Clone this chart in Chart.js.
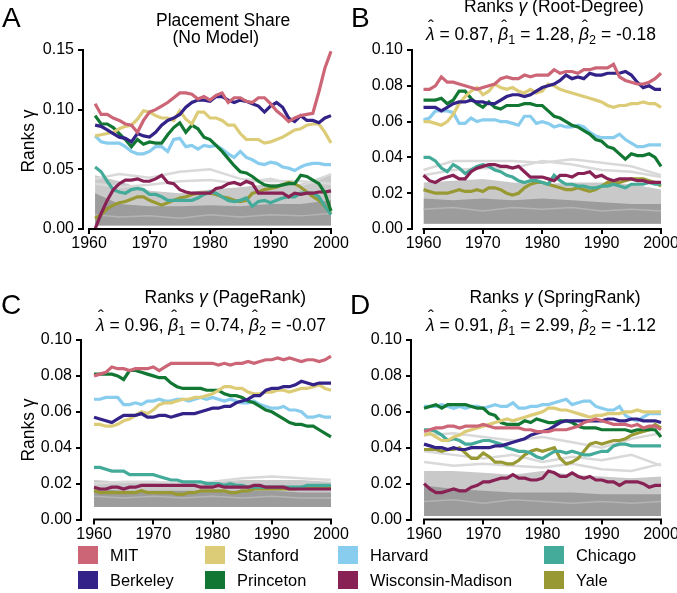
<!DOCTYPE html>
<html>
<head>
<meta charset="utf-8">
<script src="https://cdn.jsdelivr.net/npm/chart.js@4.4.1/dist/chart.umd.min.js"></script>
<style>
  body { margin: 0; background: #fff; }
  #fig { position: relative; width: 677px; height: 593px; overflow: hidden; font-family: "Liberation Sans", Arial, sans-serif; color: #000; }
  canvas { position: absolute; }
  .txt { position: absolute; white-space: nowrap; line-height: 1; }
  .hat { position: relative; display: inline-block; font-style: italic; }
  .hat::after { content: "\02C6"; position: absolute; left: 0.08em; right: 0; top: -0.42em; text-align: center; font-style: normal; }
  sub { font-size: 0.72em; vertical-align: -0.28em; line-height: 0; }
  .sw { position: absolute; width: 20px; height: 18px; }
</style>
</head>
<body>
<div id="fig">
  <canvas id="chartA" width="355" height="260" style="left:0;top:0"></canvas>
  <canvas id="chartB" width="350" height="260" style="left:340px;top:0"></canvas>
  <canvas id="chartC" width="355" height="290" style="left:0;top:260px"></canvas>
  <canvas id="chartD" width="350" height="290" style="left:340px;top:260px"></canvas>
</div>
<script>
// ---- donnees ----
const schools = ["MIT", "Berkeley", "Stanford", "Princeton", "Harvard", "Wisconsin-Madison", "Chicago", "Yale"];
const schoolColors = ["#CC6677", "#332288", "#DDCC77", "#117733", "#88CCEE", "#882255", "#44AA99", "#999933"];

const xTicks = [1960, 1970, 1980, 1990, 2000];
const yTicksShare = [0, 0.05, 0.1, 0.15];
const yTicksModel = [0, 0.02, 0.04, 0.06, 0.08, 0.1];

const yearsA = [1961, 1962, 1963, 1964, 1965, 1966, 1967, 1968, 1969, 1970, 1971, 1972, 1973, 1974, 1975, 1976, 1977, 1978, 1979, 1980,
  1981, 1982, 1983, 1984, 1985, 1986, 1987, 1988, 1989, 1990, 1991, 1992, 1993, 1994, 1995, 1996, 1997, 1998, 1999, 2000];
const years = [1960, 1961, 1962, 1963, 1964, 1965, 1966, 1967, 1968, 1969, 1970, 1971, 1972, 1973, 1974, 1975, 1976, 1977, 1978, 1979, 1980,
  1981, 1982, 1983, 1984, 1985, 1986, 1987, 1988, 1989, 1990, 1991, 1992, 1993, 1994, 1995, 1996, 1997, 1998, 1999, 2000];
const grayYearsA = [1961, 1965, 1970, 1975, 1980, 1985, 1990, 1995, 2000];
const grayYears = [1960, 1965, 1970, 1975, 1980, 1985, 1990, 1995, 2000];

// A : placement share
const A_MIT = [0.105,0.096,0.096,0.093,0.091,0.088,0.087,0.081,0.091,0.098,0.100,0.103,0.106,0.110,0.114,0.114,0.113,0.109,0.111,0.108,0.112,0.114,0.106,0.110,0.110,0.107,0.106,0.110,0.110,0.105,0.099,0.095,0.090,0.093,0.095,0.096,0.097,0.115,0.135,0.149];
const A_Berkeley = [0.087,0.086,0.083,0.080,0.077,0.076,0.073,0.080,0.078,0.077,0.081,0.087,0.091,0.093,0.096,0.102,0.106,0.108,0.108,0.107,0.111,0.111,0.108,0.106,0.108,0.107,0.105,0.103,0.098,0.103,0.106,0.102,0.093,0.090,0.095,0.091,0.091,0.089,0.093,0.095];
const A_Stanford = [0.078,0.079,0.080,0.081,0.084,0.086,0.087,0.092,0.099,0.098,0.095,0.093,0.093,0.091,0.099,0.092,0.088,0.098,0.098,0.093,0.093,0.091,0.087,0.087,0.080,0.075,0.075,0.075,0.072,0.073,0.075,0.077,0.080,0.083,0.084,0.087,0.088,0.088,0.081,0.072];
const A_Princeton = [0.095,0.088,0.088,0.085,0.080,0.075,0.069,0.075,0.071,0.073,0.072,0.072,0.079,0.085,0.089,0.081,0.087,0.084,0.077,0.075,0.070,0.065,0.059,0.053,0.048,0.047,0.044,0.040,0.037,0.036,0.036,0.037,0.038,0.038,0.045,0.044,0.041,0.038,0.030,0.015];
const A_Harvard = [0.078,0.073,0.072,0.072,0.072,0.069,0.065,0.063,0.063,0.065,0.069,0.069,0.065,0.075,0.076,0.069,0.070,0.067,0.070,0.069,0.070,0.067,0.063,0.060,0.065,0.060,0.058,0.055,0.054,0.056,0.055,0.052,0.051,0.049,0.052,0.054,0.055,0.055,0.054,0.054];
const A_Wisconsin = [0.000,0.013,0.024,0.033,0.038,0.041,0.041,0.042,0.040,0.040,0.042,0.045,0.039,0.038,0.033,0.031,0.030,0.030,0.030,0.030,0.034,0.035,0.038,0.039,0.037,0.040,0.038,0.030,0.030,0.030,0.030,0.030,0.027,0.030,0.029,0.030,0.030,0.031,0.031,0.032];
const A_Chicago = [0.052,0.048,0.040,0.033,0.031,0.030,0.033,0.034,0.033,0.029,0.029,0.027,0.024,0.024,0.024,0.024,0.024,0.026,0.029,0.031,0.030,0.027,0.024,0.023,0.024,0.026,0.019,0.023,0.024,0.022,0.024,0.026,0.027,0.027,0.030,0.030,0.030,0.027,0.019,0.012];
const A_Yale = [0.009,0.012,0.017,0.020,0.022,0.023,0.025,0.027,0.027,0.024,0.022,0.020,0.022,0.024,0.026,0.027,0.029,0.030,0.030,0.030,0.029,0.027,0.026,0.024,0.023,0.024,0.030,0.031,0.033,0.034,0.035,0.037,0.039,0.038,0.035,0.031,0.027,0.024,0.019,0.013];
const A_grayDark = [0.030, 0.021, 0.019, 0.019, 0.020, 0.019, 0.021, 0.021, 0.024];
const A_grayMid = [0.045, 0.040, 0.032, 0.030, 0.033, 0.035, 0.038, 0.038, 0.046];
const A_grayStreak = [0.012, 0.010, 0.011, 0.009, 0.012, 0.010, 0.012, 0.011, 0.013];
const A_grayL1 = [0.042, 0.046, 0.043, 0.048, 0.050, 0.042, 0.040, 0.040, 0.038];
const A_grayL2 = [0.038, 0.035, 0.037, 0.040, 0.041, 0.038, 0.042, 0.036, 0.046];

// B : root-degree
const B_MIT = [0.078,0.078,0.080,0.085,0.082,0.082,0.081,0.080,0.079,0.078,0.079,0.080,0.081,0.084,0.085,0.084,0.084,0.086,0.085,0.086,0.086,0.086,0.089,0.087,0.088,0.088,0.087,0.089,0.089,0.090,0.090,0.090,0.092,0.085,0.083,0.082,0.081,0.081,0.082,0.084,0.087];
const B_Berkeley = [0.068,0.068,0.068,0.066,0.068,0.070,0.071,0.071,0.072,0.071,0.071,0.070,0.070,0.072,0.074,0.075,0.075,0.074,0.075,0.077,0.079,0.080,0.081,0.083,0.086,0.084,0.085,0.084,0.087,0.086,0.086,0.087,0.087,0.087,0.088,0.086,0.082,0.079,0.080,0.078,0.078];
const B_Stanford = [0.060,0.060,0.059,0.058,0.060,0.064,0.070,0.074,0.077,0.079,0.075,0.077,0.081,0.079,0.078,0.079,0.077,0.076,0.078,0.076,0.077,0.081,0.080,0.078,0.077,0.076,0.075,0.074,0.073,0.072,0.071,0.069,0.068,0.069,0.069,0.070,0.070,0.071,0.070,0.070,0.068];
const B_Princeton = [0.072,0.072,0.072,0.073,0.070,0.072,0.077,0.077,0.073,0.070,0.068,0.071,0.068,0.067,0.069,0.069,0.069,0.070,0.070,0.069,0.069,0.066,0.063,0.062,0.060,0.058,0.057,0.055,0.053,0.050,0.049,0.046,0.045,0.042,0.039,0.042,0.041,0.041,0.042,0.040,0.035];
const B_Harvard = [0.061,0.062,0.066,0.066,0.066,0.065,0.059,0.059,0.062,0.060,0.061,0.061,0.061,0.060,0.060,0.059,0.058,0.063,0.063,0.059,0.060,0.059,0.057,0.058,0.057,0.057,0.058,0.057,0.054,0.052,0.051,0.051,0.051,0.053,0.050,0.048,0.046,0.046,0.047,0.047,0.047];
const B_Wisconsin = [0.030,0.027,0.026,0.028,0.029,0.030,0.028,0.028,0.032,0.034,0.035,0.036,0.036,0.035,0.035,0.034,0.035,0.032,0.029,0.029,0.029,0.028,0.027,0.030,0.030,0.029,0.031,0.031,0.032,0.029,0.030,0.028,0.027,0.028,0.028,0.028,0.027,0.027,0.026,0.026,0.026];
const B_Chicago = [0.040,0.040,0.038,0.034,0.032,0.036,0.034,0.031,0.033,0.035,0.036,0.035,0.033,0.032,0.030,0.029,0.027,0.026,0.027,0.027,0.026,0.025,0.030,0.027,0.025,0.025,0.024,0.024,0.023,0.023,0.024,0.024,0.025,0.024,0.023,0.025,0.025,0.025,0.026,0.025,0.025];
const B_Yale = [0.022,0.021,0.020,0.020,0.020,0.021,0.022,0.021,0.021,0.022,0.021,0.023,0.023,0.022,0.020,0.019,0.020,0.023,0.025,0.026,0.026,0.025,0.024,0.023,0.022,0.022,0.023,0.022,0.021,0.022,0.024,0.026,0.026,0.026,0.027,0.028,0.028,0.028,0.027,0.026,0.024];
const B_grayDark = [0.017, 0.016, 0.017, 0.016, 0.017, 0.016, 0.015, 0.014, 0.014];
const B_grayMid = [0.026, 0.027, 0.028, 0.026, 0.025, 0.026, 0.026, 0.025, 0.022];
const B_grayStreak = [0.011, 0.012, 0.010, 0.012, 0.011, 0.012, 0.010, 0.011, 0.010];
const B_grayL1 = [0.033, 0.038, 0.038, 0.038, 0.037, 0.039, 0.037, 0.035, 0.030];
const B_grayL2 = [0.030, 0.033, 0.034, 0.034, 0.038, 0.036, 0.033, 0.032, 0.029];

// C : pagerank
const C_MIT = [0.080,0.081,0.082,0.085,0.084,0.084,0.083,0.084,0.084,0.084,0.085,0.083,0.085,0.087,0.087,0.087,0.087,0.087,0.087,0.087,0.087,0.086,0.087,0.086,0.087,0.087,0.088,0.087,0.088,0.089,0.089,0.090,0.089,0.090,0.089,0.088,0.089,0.089,0.088,0.089,0.091];
const C_Berkeley = [0.057,0.056,0.055,0.054,0.056,0.058,0.058,0.058,0.059,0.057,0.057,0.058,0.058,0.057,0.058,0.059,0.059,0.059,0.060,0.061,0.062,0.062,0.063,0.063,0.065,0.066,0.067,0.069,0.069,0.072,0.073,0.073,0.074,0.074,0.075,0.077,0.076,0.075,0.076,0.076,0.076];
const C_Stanford = [0.053,0.053,0.052,0.052,0.053,0.055,0.056,0.058,0.060,0.059,0.061,0.064,0.065,0.065,0.066,0.067,0.067,0.068,0.068,0.069,0.070,0.072,0.074,0.074,0.073,0.073,0.071,0.070,0.070,0.071,0.071,0.072,0.072,0.071,0.072,0.073,0.073,0.074,0.075,0.073,0.072];
const C_Princeton = [0.081,0.081,0.081,0.081,0.080,0.078,0.083,0.083,0.082,0.081,0.080,0.079,0.079,0.076,0.074,0.073,0.073,0.073,0.073,0.072,0.072,0.072,0.070,0.069,0.069,0.068,0.066,0.065,0.063,0.061,0.060,0.058,0.056,0.054,0.053,0.053,0.052,0.052,0.050,0.048,0.046];
const C_Harvard = [0.067,0.067,0.068,0.068,0.068,0.064,0.064,0.065,0.064,0.066,0.066,0.067,0.066,0.066,0.067,0.067,0.066,0.067,0.068,0.067,0.068,0.067,0.066,0.067,0.066,0.065,0.065,0.066,0.064,0.063,0.062,0.062,0.063,0.061,0.061,0.060,0.057,0.057,0.058,0.057,0.057];
const C_Wisconsin = [0.018,0.017,0.017,0.018,0.018,0.017,0.018,0.018,0.019,0.019,0.019,0.019,0.019,0.019,0.019,0.019,0.019,0.019,0.018,0.018,0.018,0.019,0.018,0.018,0.018,0.018,0.018,0.019,0.019,0.018,0.018,0.018,0.018,0.017,0.017,0.017,0.017,0.017,0.017,0.017,0.017];
const C_Chicago = [0.029,0.029,0.028,0.027,0.027,0.027,0.025,0.025,0.025,0.025,0.025,0.024,0.023,0.022,0.022,0.021,0.021,0.021,0.021,0.020,0.020,0.020,0.019,0.020,0.019,0.019,0.018,0.018,0.018,0.018,0.018,0.018,0.018,0.018,0.018,0.018,0.019,0.019,0.019,0.019,0.019];
const C_Yale = [0.016,0.015,0.015,0.015,0.015,0.015,0.015,0.015,0.016,0.015,0.015,0.015,0.015,0.015,0.014,0.014,0.015,0.015,0.016,0.016,0.016,0.016,0.016,0.015,0.015,0.016,0.016,0.017,0.017,0.017,0.017,0.017,0.017,0.017,0.017,0.018,0.018,0.018,0.018,0.018,0.018];
const C_grayDark = [0.017, 0.016, 0.016, 0.016, 0.016, 0.016, 0.016, 0.015, 0.015];
const C_grayMid = [0.022, 0.021, 0.021, 0.021, 0.021, 0.022, 0.022, 0.022, 0.021];
const C_grayStreak = [0.013, 0.012, 0.013, 0.012, 0.013, 0.012, 0.013, 0.012, 0.012];
const C_grayL1 = [0.020, 0.021, 0.021, 0.020, 0.021, 0.023, 0.024, 0.023, 0.022];

// D : springrank
const D_MIT = [0.049,0.050,0.051,0.051,0.052,0.052,0.051,0.052,0.052,0.052,0.053,0.052,0.051,0.051,0.051,0.051,0.051,0.050,0.050,0.049,0.049,0.049,0.050,0.050,0.050,0.051,0.052,0.054,0.055,0.056,0.055,0.054,0.053,0.053,0.053,0.052,0.053,0.051,0.052,0.052,0.050];
const D_Berkeley = [0.042,0.041,0.040,0.040,0.039,0.040,0.039,0.039,0.040,0.040,0.040,0.040,0.041,0.041,0.042,0.043,0.044,0.045,0.047,0.048,0.049,0.050,0.052,0.054,0.055,0.055,0.055,0.055,0.055,0.055,0.055,0.056,0.056,0.055,0.055,0.056,0.056,0.055,0.055,0.055,0.054];
const D_Stanford = [0.047,0.048,0.046,0.044,0.044,0.046,0.047,0.049,0.050,0.051,0.052,0.053,0.054,0.055,0.056,0.055,0.056,0.057,0.058,0.059,0.060,0.062,0.062,0.061,0.061,0.060,0.059,0.058,0.057,0.058,0.058,0.059,0.059,0.059,0.060,0.060,0.061,0.060,0.060,0.060,0.060];
const D_Princeton = [0.062,0.063,0.064,0.062,0.064,0.064,0.064,0.064,0.063,0.062,0.062,0.059,0.058,0.054,0.053,0.053,0.053,0.055,0.054,0.056,0.055,0.054,0.054,0.055,0.055,0.054,0.052,0.051,0.051,0.051,0.050,0.050,0.050,0.050,0.050,0.049,0.050,0.050,0.050,0.050,0.046];
const D_Harvard = [0.063,0.063,0.063,0.064,0.063,0.062,0.063,0.062,0.063,0.063,0.062,0.063,0.064,0.063,0.063,0.065,0.062,0.062,0.063,0.063,0.064,0.064,0.065,0.066,0.067,0.064,0.065,0.066,0.066,0.063,0.062,0.061,0.061,0.063,0.058,0.056,0.055,0.057,0.059,0.059,0.059];
const D_Wisconsin = [0.020,0.017,0.015,0.015,0.016,0.017,0.016,0.016,0.018,0.019,0.021,0.021,0.022,0.023,0.023,0.025,0.023,0.023,0.022,0.022,0.023,0.027,0.026,0.024,0.024,0.026,0.024,0.023,0.024,0.022,0.022,0.021,0.021,0.019,0.021,0.021,0.021,0.020,0.018,0.019,0.019];
const D_Chicago = [0.050,0.050,0.049,0.047,0.044,0.045,0.044,0.042,0.042,0.043,0.044,0.044,0.043,0.042,0.040,0.039,0.038,0.038,0.037,0.035,0.034,0.036,0.038,0.038,0.037,0.038,0.037,0.036,0.036,0.037,0.038,0.038,0.041,0.042,0.042,0.041,0.041,0.041,0.041,0.041,0.041];
const D_Yale = [0.039,0.039,0.039,0.038,0.039,0.039,0.040,0.037,0.034,0.034,0.037,0.035,0.032,0.032,0.031,0.031,0.033,0.036,0.038,0.039,0.038,0.039,0.040,0.034,0.031,0.032,0.034,0.038,0.042,0.043,0.042,0.043,0.044,0.044,0.045,0.047,0.048,0.049,0.050,0.053,0.051];
const D_grayDark = [0.019, 0.017, 0.016, 0.015, 0.015, 0.015, 0.014, 0.014, 0.014];
const D_grayMid = [0.027, 0.027, 0.026, 0.025, 0.027, 0.025, 0.024, 0.023, 0.024];
const D_grayStreak = [0.010, 0.011, 0.009, 0.011, 0.010, 0.009, 0.010, 0.009, 0.010];
const D_grayL1 = [0.047, 0.048, 0.046, 0.044, 0.046, 0.043, 0.040, 0.045, 0.048];
const D_grayL2 = [0.038, 0.036, 0.034, 0.036, 0.032, 0.035, 0.033, 0.036, 0.030];
const D_grayL3 = [0.032, 0.030, 0.031, 0.030, 0.029, 0.031, 0.028, 0.027, 0.031];

// titres des modeles
const modelNames = ["Root-Degree", "PageRank", "SpringRank"];
const lambdaHat = [0.87, 0.96, 0.91];
const beta1Hat = [1.28, 0.74, 2.99];
const beta2Hat = [-0.18, -0.07, -1.12];

// ---- mise en page ----
const FONT = '"Liberation Sans", Arial, sans-serif';
const TICK_SIZE = 16;
Chart.defaults.font.family = FONT;
Chart.defaults.font.size = TICK_SIZE;
const fig = document.getElementById("fig");

const panels = [
  { id: "chartA", years: yearsA, series: [A_MIT, A_Berkeley, A_Stanford, A_Princeton, A_Harvard, A_Wisconsin, A_Chicago, A_Yale],
    grayYears: grayYearsA, grayLow: 0.003, grayDark: A_grayDark, grayMid: A_grayMid, grayStreak: A_grayStreak, grayLines: [A_grayL1, A_grayL2],
    yTicks: yTicksShare, xMin: 1959, left: 83, right: 331, top: 50, bottom: 229 },
  { id: "chartB", years: years, series: [B_MIT, B_Berkeley, B_Stanford, B_Princeton, B_Harvard, B_Wisconsin, B_Chicago, B_Yale],
    grayYears: grayYears, grayLow: 0.003, grayDark: B_grayDark, grayMid: B_grayMid, grayStreak: B_grayStreak, grayLines: [B_grayL1, B_grayL2],
    yTicks: yTicksModel, xMin: 1958.06, left: 72, right: 321, top: 50, bottom: 229 },
  { id: "chartC", years: years, series: [C_MIT, C_Berkeley, C_Stanford, C_Princeton, C_Harvard, C_Wisconsin, C_Chicago, C_Yale],
    grayYears: grayYears, grayLow: 0.007, grayDark: C_grayDark, grayMid: C_grayMid, grayStreak: C_grayStreak, grayLines: [C_grayL1],
    yTicks: yTicksModel, xMin: 1957.8, left: 81, right: 331, top: 80, bottom: 259.5 },
  { id: "chartD", years: years, series: [D_MIT, D_Berkeley, D_Stanford, D_Princeton, D_Harvard, D_Wisconsin, D_Chicago, D_Yale],
    grayYears: grayYears, grayLow: 0.002, grayDark: D_grayDark, grayMid: D_grayMid, grayStreak: D_grayStreak, grayLines: [D_grayL1, D_grayL2, D_grayL3],
    yTicks: yTicksModel, xMin: 1957.8, left: 71, right: 321, top: 80, bottom: 259.5 },
];

// axe x coupe entre 1960 et 2000 (style despine)
const bottomSpine = {
  id: "bottomSpine",
  afterDraw(chart) {
    const { ctx, chartArea, scales } = chart;
    const x = scales.x;
    ctx.save();
    ctx.strokeStyle = "#000";
    ctx.lineWidth = 2;
    ctx.beginPath();
    ctx.moveTo(x.getPixelForValue(xTicks[0]) - 1, chartArea.bottom);
    ctx.lineTo(x.getPixelForValue(xTicks[xTicks.length - 1]) + 1, chartArea.bottom);
    ctx.stroke();
    ctx.restore();
  },
};

function pts(xs, ys) {
  return xs.map((x, i) => ({ x: x, y: ys[i] }));
}

function buildPanel(p) {
  const canvas = document.getElementById(p.id);
  const W = canvas.width, H = canvas.height;

  const datasets = p.series.map((vals, i) => ({
    label: schools[i],
    data: pts(p.years, vals),
    borderColor: schoolColors[i],
    borderWidth: 3.2,
    pointRadius: 0,
    fill: false,
    clip: false,
  }));
  p.grayLines.forEach((vals) => {
    datasets.push({ data: pts(p.grayYears, vals), borderColor: "#d9d9d9", borderWidth: 2.5, pointRadius: 0, fill: false, clip: false });
  });
  datasets.push({ data: pts(p.grayYears, p.grayStreak), borderColor: "#b4b4b4", borderWidth: 1.5, pointRadius: 0, fill: false });
  datasets.push({ data: pts(p.grayYears, p.grayDark), borderColor: "rgba(0,0,0,0)", borderWidth: 0,
    backgroundColor: "#9c9c9c", pointRadius: 0, fill: { value: p.grayLow } });
  datasets.push({ data: pts(p.grayYears, p.grayMid), borderColor: "rgba(0,0,0,0)", borderWidth: 0,
    backgroundColor: "#c9c9c9", pointRadius: 0, fill: { value: p.grayLow } });

  const yMax = p.yTicks[p.yTicks.length - 1];

  new Chart(canvas, {
    type: "line",
    data: { datasets: datasets },
    options: {
      responsive: false,
      animation: false,
      events: [],
      devicePixelRatio: 1,
      layout: { padding: { left: 0, top: p.top, right: W - p.right, bottom: 0 } },
      plugins: { legend: { display: false }, tooltip: { enabled: false } },
      scales: {
        x: {
          type: "linear",
          min: p.xMin,
          max: 2000,
          border: { display: false },
          grid: { drawOnChartArea: false, drawTicks: true, tickLength: 5, color: "#000", lineWidth: 2 },
          ticks: { color: "#000", font: { family: FONT, size: TICK_SIZE }, padding: 0, maxRotation: 0, autoSkip: false, callback: (v) => String(v) },
          afterBuildTicks: (s) => { s.ticks = xTicks.map((v) => ({ value: v })); },
          afterFit: (s) => { s.height = H - p.bottom; },
        },
        y: {
          min: 0,
          max: yMax,
          border: { display: true, color: "#000", width: 2 },
          grid: { drawOnChartArea: false, drawTicks: true, tickLength: 5, color: "#000", lineWidth: 2 },
          ticks: { color: "#000", font: { family: FONT, size: TICK_SIZE }, padding: 4, callback: (v) => v.toFixed(2) },
          afterBuildTicks: (s) => { s.ticks = p.yTicks.map((v) => ({ value: v })); },
          afterFit: (s) => { s.width = p.left; },
        },
      },
    },
    plugins: [bottomSpine],
  });
}

panels.forEach(buildPanel);

// ---- textes ----
function addText(html, x, baseline, size, align) {
  const d = document.createElement("div");
  d.className = "txt";
  d.style.fontSize = size + "px";
  d.style.top = (baseline - 0.8465 * size) + "px";
  d.innerHTML = html;
  fig.appendChild(d);
  d.style.left = (align === "center" ? x - d.offsetWidth / 2 : x) + "px";
  return d;
}

function addYLabel(cx, cy) {
  const d = document.createElement("div");
  d.className = "txt";
  d.style.fontSize = "17.5px";
  d.style.left = cx + "px";
  d.style.top = cy + "px";
  d.style.transform = "translate(-50%, -50%) rotate(-90deg)";
  d.innerHTML = "Ranks \u03b3";
  fig.appendChild(d);
}

function paramLine(i) {
  return '<span class="hat">\u03bb</span> = ' + lambdaHat[i].toFixed(2) +
    ', <span class="hat">\u03b2</span><sub>1</sub> = ' + beta1Hat[i].toFixed(2) +
    ', <span class="hat">\u03b2</span><sub>2</sub> = ' + beta2Hat[i].toFixed(2);
}

// lettres des panneaux
addText("A", 2, 28, 28);
addText("B", 351, 28, 28);
addText("C", 1, 315, 28);
addText("D", 350, 315, 28);

// titres
addText("Placement Share", 223, 27, 17.5, "center");
addText("(No Model)", 216, 43.5, 17.5, "center");
addText("Ranks <i>\u03b3</i> (" + modelNames[0] + ")", 554, 13, 17.5, "center");
addText(paramLine(0), 541, 41, 17.5, "center");
addText("Ranks <i>\u03b3</i> (" + modelNames[1] + ")", 225, 303.5, 17.5, "center");
addText(paramLine(1), 211, 331.5, 17.5, "center");
addText("Ranks <i>\u03b3</i> (" + modelNames[2] + ")", 555, 303.5, 17.5, "center");
addText(paramLine(2), 541, 331.5, 17.5, "center");

addYLabel(29, 141);
addYLabel(29, 430);

// legende (4 colonnes, 2 lignes)
const legendCols = [78, 205, 338, 544];
const legendRows = [546, 571];
schools.forEach((name, i) => {
  const cx = legendCols[Math.floor(i / 2)];
  const cy = legendRows[i % 2];
  const sw = document.createElement("div");
  sw.className = "sw";
  sw.style.left = cx + "px";
  sw.style.top = cy + "px";
  sw.style.background = schoolColors[i];
  fig.appendChild(sw);
  addText(name, cx + 32, cy + 15, 16.4);
});
</script>
</body>
</html>
